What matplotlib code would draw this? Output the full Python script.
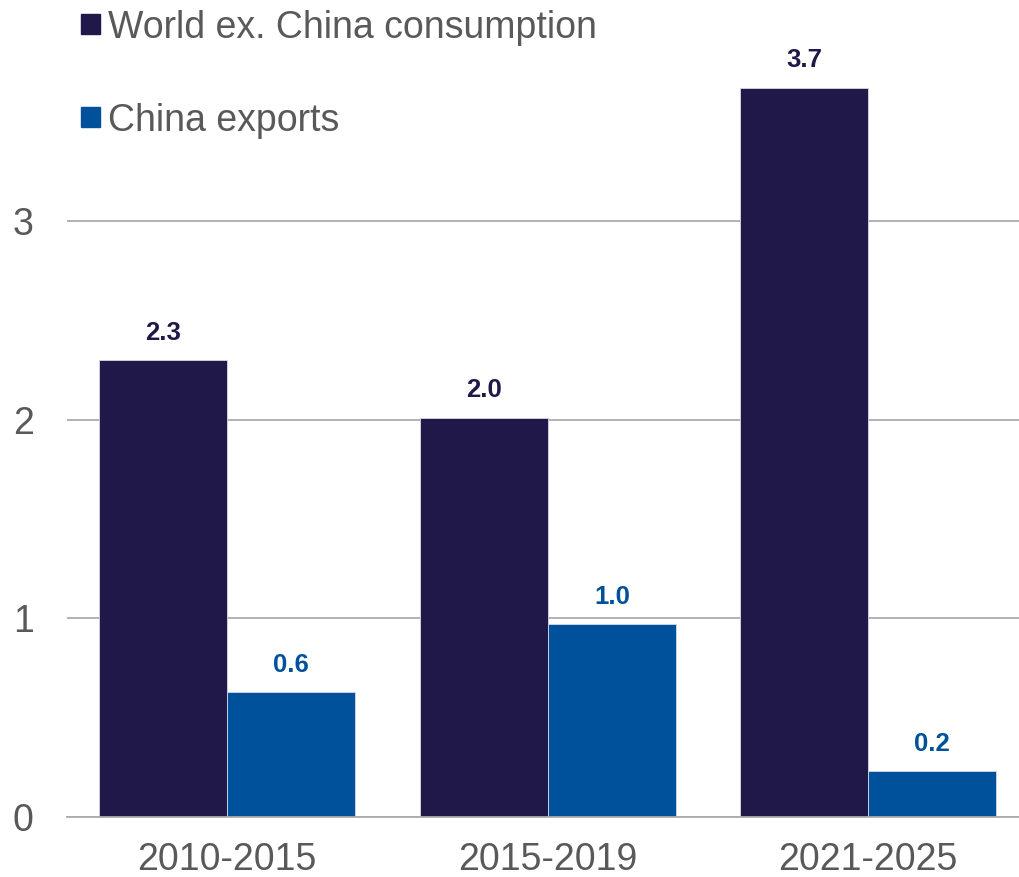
import matplotlib
matplotlib.use("Agg")
import matplotlib.pyplot as plt
from matplotlib.patches import Rectangle
import numpy as np

plt.rcParams['font.family'] = ['Liberation Sans', 'DejaVu Sans']

periods = ["2010-2015", "2015-2019", "2021-2025"]
series_names = ["World ex. China consumption", "China exports"]
world_ex_china = [2.30, 2.01, 3.67]
china_exports = [0.63, 0.97, 0.23]
y_ticks = [0, 1, 2, 3]

colors = ["#201848", "#00519B"]
text_grey = "#595959"

W, H = 1020, 877
fig = plt.figure(figsize=(W / 100, H / 100), dpi=100)

y_max = 3.9
px_per_unit = 198.7
ax_left, ax_bottom = 67 / W, 60 / H
ax_height = y_max * px_per_unit / H
ax = fig.add_axes([ax_left, ax_bottom, 1.0 - ax_left, ax_height])

x = np.arange(len(periods))
width = 0.4
values = [world_ex_china, china_exports]
offsets = [-width / 2, width / 2]
for vals, off, col in zip(values, offsets, colors):
    bars = ax.bar(x + off, vals, width, color=col, edgecolor="#d8d8e8",
                  linewidth=0.6, zorder=3)
    for b, v in zip(bars, vals):
        ax.annotate(f"{v:.1f}", (b.get_x() + b.get_width() / 2, v),
                    xytext=(0, 11), textcoords="offset points",
                    ha="center", va="bottom", fontsize=18.5,
                    fontweight="bold", color=col)

ax.set_xlim(-0.5, -0.5 + (W - 67) / 320.5)
ax.set_ylim(0, y_max)
ax.set_yticks(y_ticks)
ax.set_yticklabels([str(t) for t in y_ticks])
ax.set_xticks(x)
ax.set_xticklabels(periods)
ax.tick_params(axis="both", length=0, labelsize=27, colors=text_grey)
ax.tick_params(axis="y", pad=24)
ax.tick_params(axis="x", pad=18)
ax.yaxis.grid(True, color="#ababab", linewidth=1.3, zorder=0)
ax.set_axisbelow(True)
for s in ["left", "right", "top"]:
    ax.spines[s].set_visible(False)
ax.spines["bottom"].set_color("#ababab")
ax.spines["bottom"].set_linewidth(1.3)
ax.spines["bottom"].set_zorder(4)

# legend drawn as square swatches with labels in the top-left corner
leg_rows = [24, 117]
for name, col, yc in zip(series_names, colors, leg_rows):
    fig.patches.append(Rectangle((81 / W, 1 - (yc + 9.5) / H), 19 / W, 19 / H,
                                 transform=fig.transFigure, color=col,
                                 figure=fig))
    fig.text(108 / W, 1 - yc / H, name, fontsize=27, color=text_grey,
             va="center_baseline", ha="left")

fig.savefig("out.png", dpi=100)
